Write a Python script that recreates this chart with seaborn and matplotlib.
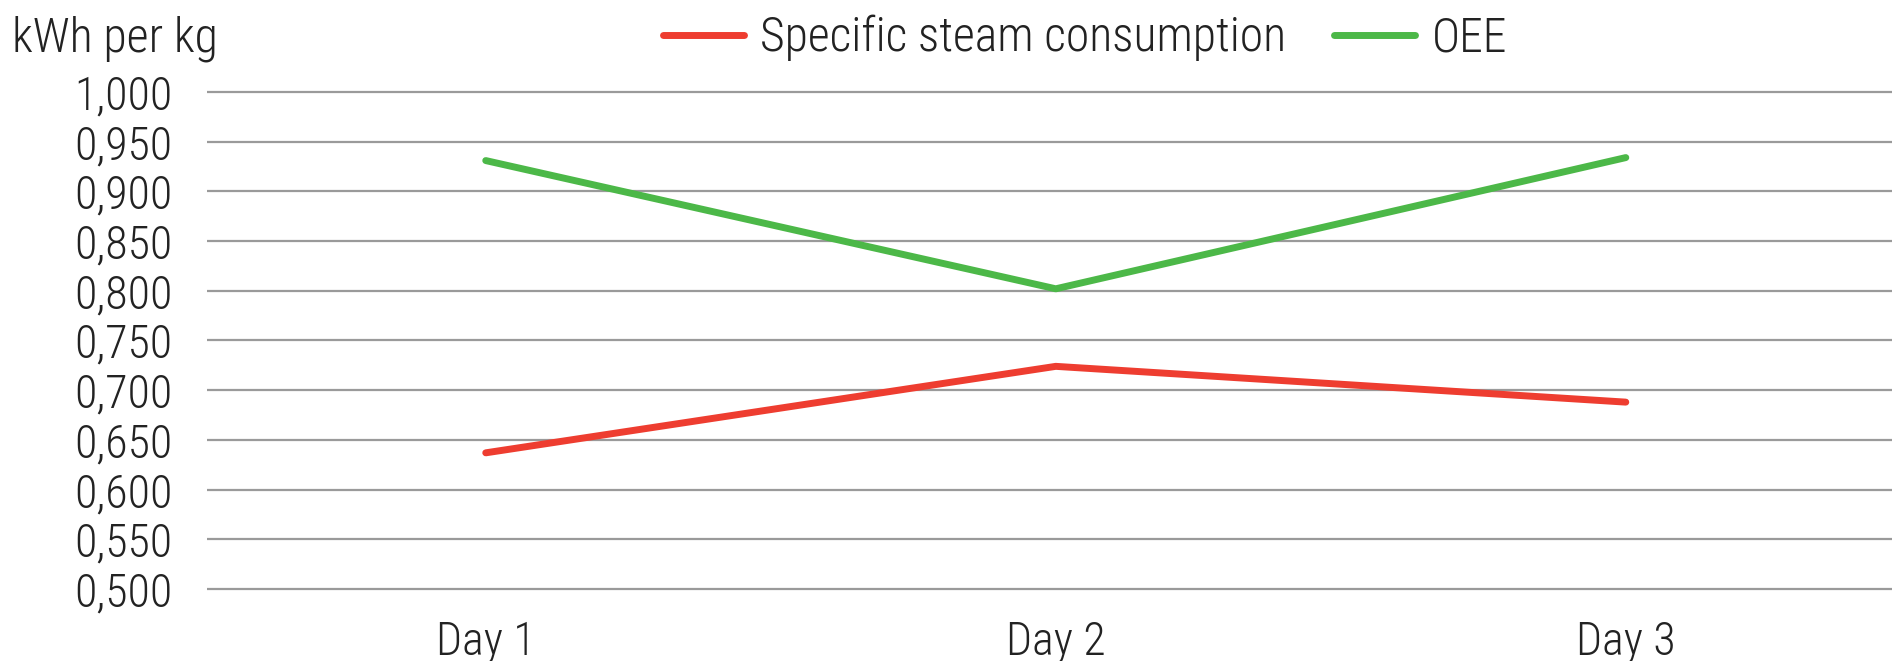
import matplotlib
matplotlib.use("Agg")
import matplotlib.pyplot as plt
import matplotlib.font_manager as fm
import pandas as pd
import seaborn as sns

days = ["Day 1", "Day 2", "Day 3"]
steam = [0.637, 0.724, 0.688]
oee = [0.931, 0.802, 0.934]
series_names = ["Specific steam consumption", "OEE"]
y_ticks = [0.50, 0.55, 0.60, 0.65, 0.70, 0.75, 0.80, 0.85, 0.90, 0.95, 1.00]

RED = "#EE3D30"
GREEN = "#4CB848"
GRID = "#9a9a9a"
TEXT = "#222222"

sns.set_theme(style="white")
# reference uses a light condensed grotesque; take the closest one installed
installed = {f.name for f in fm.fontManager.ttflist}
prefs = ["Roboto Condensed", "Archivo Narrow", "PT Sans Narrow", "Fira Sans Condensed",
         "IBM Plex Sans Condensed", "Sofia Sans Condensed", "Liberation Sans Narrow", "Liberation Sans"]
family = next(f for f in prefs if f in installed)
plt.rcParams["font.family"] = [family, "DejaVu Sans"]
plt.rcParams["font.weight"] = 300
FS = 33

df = pd.DataFrame({
    "day": days * 2,
    "value": steam + oee,
    "series": [series_names[0]] * 3 + [series_names[1]] * 3,
})

W, H = 1892, 661
fig = plt.figure(figsize=(W / 100, H / 100), dpi=100)
left, right, top, bottom = 207, 1892, 89, 592
ax = fig.add_axes([left / W, 1 - bottom / H, (right - left) / W, (bottom - top) / H])

sns.lineplot(
    data=df, x="day", y="value", hue="series",
    palette={series_names[0]: RED, series_names[1]: GREEN},
    linewidth=5, ax=ax, legend=False, sort=False,
    solid_capstyle="round",
)

ax.set_xlim(-0.489, 2.467)
ax.set_ylim(0.497, 1.003)
ax.set_yticks(y_ticks)
ax.set_yticklabels([f"{v:.3f}".replace(".", ",") for v in y_ticks])
ax.yaxis.grid(True, color=GRID, linewidth=1.6)
ax.xaxis.grid(False)
for s in ax.spines.values():
    s.set_visible(False)
ax.tick_params(axis="y", length=0, pad=25, labelsize=FS, labelcolor=TEXT)
ax.tick_params(axis="x", length=0, pad=20, labelsize=FS, labelcolor=TEXT)
ax.set_xlabel("")
ax.set_ylabel("")

fig.text(12 / W, 1 - 39 / H, "kWh per kg", fontsize=34.5, color=TEXT, va="center", ha="left")

handles = [
    plt.Line2D([], [], color=RED, linewidth=5, solid_capstyle="round"),
    plt.Line2D([], [], color=GREEN, linewidth=5, solid_capstyle="round"),
]
fig.legend(
    handles, series_names, loc="center", bbox_to_anchor=(1085 / W, 1 - 38 / H),
    ncol=2, frameon=False, fontsize=34.3, handlelength=1.7, handletextpad=0.35,
    columnspacing=1.0, labelcolor=TEXT,
)

fig.savefig("out.png", dpi=100)
